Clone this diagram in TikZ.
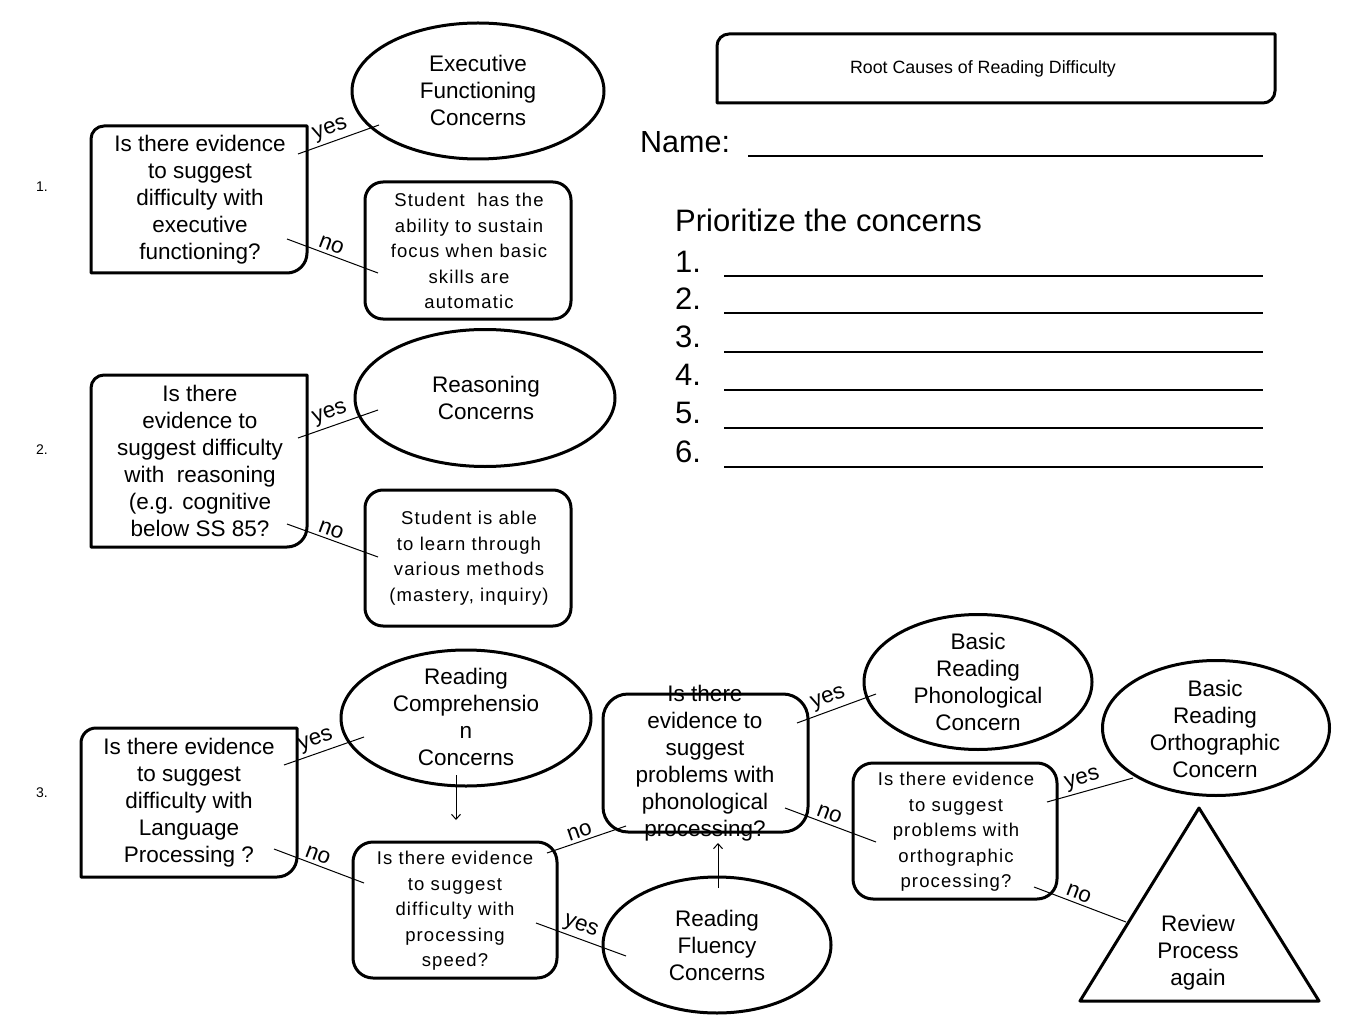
\documentclass[tikz,border=0pt]{standalone}
\usepackage{fontspec}
\setmainfont{Liberation Sans}
\newfontfamily\spcfont[LetterSpace=6]{Liberation Sans}
\usetikzlibrary{shapes.geometric,arrows.meta}
\newcommand\qframe[3]{\draw[frame] (#1.west) [rounded corners=#2] -- (#1.north west) -- (#1.north) [sharp corners] -- (#1.north east) -- (#1.east) [rounded corners=#3] -- (#1.south east) -- (#1.south) [sharp corners] -- (#1.south west) -- cycle;}
\begin{document}
\begin{tikzpicture}[x=1pt,y=-1pt,
 frame/.style={line width=3pt, line join=round},
 shp/.style={rectangle, inner sep=0pt, outer sep=0pt},
 rbox/.style={draw, line width=3pt, rectangle, rounded corners=#1, inner sep=0pt},
 rbox/.default=18pt,
 ell/.style={draw, ellipse, line width=3pt, inner sep=0pt},
 big/.style={font=\fontsize{22.5}{27}\selectfont, align=center, inner sep=0pt},
 sml/.style={font=\spcfont\fontsize{18.5}{25.5}\selectfont, align=center, inner sep=0pt},
 conn/.style={line width=1pt},
 lab/.style={font=\fontsize{22.5}{26}\selectfont, sloped, above, inner sep=3pt, pos=0.45},
 arr/.style={line width=1pt, -{Straight Barb[length=5pt,width=9pt]}},
 uline/.style={line width=2.3pt},
 numl/.style={font=\fontsize{14}{16}\selectfont, inner sep=0pt},
 bigl/.style={anchor=west, font=\fontsize{31}{36}\selectfont, inner sep=0pt},
 ]
\fill[white] (0,0) rectangle (1365,1024);
\useasboundingbox (0,0) rectangle (1365,1024);

% ---------- title and list ----------
\node[shp, minimum width=558pt, minimum height=69pt] (title) at (996,68.5) {};
\qframe{title}{12pt}{12pt}
\node[font=\fontsize{17.8}{20}\selectfont, inner sep=0pt] (titlet) at (983,69) {Root Causes of Reading Difficulty};

\node[bigl, font=\fontsize{30.5}{36}\selectfont] (name) at (640,142) {Name:};
\coordinate (nla) at (748,156);
\coordinate (nlb) at (1263,156);
\draw[uline] (nla) -- (nlb);
\node[bigl] (prio) at (675,220) {Prioritize the concerns};
\foreach \i/\y/\u in {1/262/276, 2/299/313, 3/337/352, 4/375/390, 5/413/428, 6/452/467}{
  \node[bigl] (num\i) at (675,\y) {\i.};
  \coordinate (ula\i) at (724,\u);
  \coordinate (ulb\i) at (1263,\u);
  \draw[uline] (ula\i) -- (ulb\i);
}

% ---------- section 1 ----------
\node[numl] (sec1) at (42,187) {1.};
\node[shp, minimum width=216pt, minimum height=147pt] (q1) at (199,199.5) {};
\qframe{q1}{13pt}{20pt}
\node[big] (q1t) at (200,199.5) {Is there evidence\\to suggest\\difficulty with\\executive\\functioning?};
\node[ell, minimum width=252pt, minimum height=136pt] (ef) at (478,91) {};
\node[big] (eft) at (478,90) {Executive\\Functioning\\Concerns};
\node[rbox, minimum width=206pt, minimum height=137pt] (s1) at (468,250.5) {};
\node[sml] (s1t) at (469,251) {Student\ \ has the\\ability to sustain\\focus when basic\\skills are\\automatic};
\coordinate (y1a) at (298,154); \coordinate (y1b) at (379,125);
\coordinate (n1a) at (287,239); \coordinate (n1b) at (378,273);
\draw[conn] (y1a) -- node[lab] (l1y) {yes} (y1b);
\draw[conn] (n1a) -- node[lab] (l1n) {no} (n1b);

% ---------- section 2 ----------
\node[numl] (sec2) at (42,450) {2.};
\node[shp, minimum width=216pt, minimum height=172pt] (q2) at (199,461) {};
\qframe{q2}{13pt}{20pt}
\node[big] (q2t) at (200,461) {Is there\\evidence to\\suggest difficulty\\with\ \ reasoning\\(e.g. cognitive\\below SS 85?};
\node[ell, minimum width=260pt, minimum height=137pt] (rs) at (485,398) {};
\node[big] (rst) at (486,398) {Reasoning\\Concerns};
\node[rbox, minimum width=206pt, minimum height=136pt] (s2) at (468,558) {};
\node[sml] (s2t) at (469,558) {Student is able\\to learn through\\various methods\\(mastery, inquiry)};
\coordinate (y2a) at (298,438); \coordinate (y2b) at (378,410);
\coordinate (n2a) at (287,524); \coordinate (n2b) at (378,557);
\draw[conn] (y2a) -- node[lab] (l2y) {yes} (y2b);
\draw[conn] (n2a) -- node[lab] (l2n) {no} (n2b);

% ---------- section 3 ----------
\node[numl] (sec3) at (42,793) {3.};
\node[shp, minimum width=216pt, minimum height=149pt] (q3) at (189,802.5) {};
\qframe{q3}{15pt}{20pt}
\node[big] (q3t) at (189,802.5) {Is there evidence\\to suggest\\difficulty with\\Language\\Processing ?};
\node[ell, minimum width=250pt, minimum height=136pt] (rc) at (466,718) {};
\node[big] (rct) at (466,717) {Reading\\Comprehensio\\n\\Concerns};
\node[rbox=20pt, minimum width=204pt, minimum height=136pt] (sp) at (455,910) {};
\node[sml] (spt) at (455,911) {Is there evidence\\to suggest\\difficulty with\\processing\\speed?};
\node[rbox=25pt, minimum width=205pt, minimum height=138pt] (ph) at (705.5,763) {};
\node[big] (pht) at (705,763) {Is there\\evidence to\\suggest\\problems with\\phonological\\processing?};
\node[ell, minimum width=228pt, minimum height=135pt] (phe) at (978,682) {};
\node[big] (phet) at (978,682) {Basic\\Reading\\Phonological\\Concern};
\node[ell, minimum width=228pt, minimum height=136pt] (fl) at (717,945) {};
\node[big] (flt) at (717,945) {Reading\\Fluency\\Concerns};
\node[rbox=20pt, minimum width=204pt, minimum height=136pt] (orb) at (955,831) {};
\node[sml] (orbt) at (956,832) {Is there evidence\\to suggest\\problems with\\orthographic\\processing?};
\node[ell, minimum width=227pt, minimum height=135pt] (ore) at (1216,728) {};
\node[big] (oret) at (1215,729) {Basic\\Reading\\Orthographic\\Concern};
\coordinate (ta) at (1199,808); \coordinate (tb) at (1080,1001); \coordinate (tc) at (1319,1001);
\draw[frame] (ta) -- (tb) -- (tc) -- cycle;
\node[big] (trt) at (1198,953) {Review\\Process\\again};

\coordinate (y3a) at (284,765); \coordinate (y3b) at (364,737);
\coordinate (n3a) at (274,849); \coordinate (n3b) at (364,883);
\draw[conn] (y3a) -- node[lab] (l3y) {yes} (y3b);
\draw[conn] (n3a) -- node[lab] (l3n) {no} (n3b);
\coordinate (ra) at (456,775); \coordinate (rb) at (456,820);
\draw[arr] (ra) -- (rb);
\coordinate (n4a) at (547,853); \coordinate (n4b) at (626,826);
\draw[conn] (n4a) -- node[lab] (l4n) {no} (n4b);
\coordinate (y4a) at (536,923); \coordinate (y4b) at (626,956);
\draw[conn] (y4a) -- node[lab] (l4y) {yes} (y4b);
\coordinate (fa) at (718,888); \coordinate (fb) at (718,843);
\draw[arr] (fa) -- (fb);
\coordinate (y5a) at (797,723); \coordinate (y5b) at (876,694);
\draw[conn] (y5a) -- node[lab] (l5y) {yes} (y5b);
\coordinate (n5a) at (785,808); \coordinate (n5b) at (876,842);
\draw[conn] (n5a) -- node[lab] (l5n) {no} (n5b);
\coordinate (y6a) at (1047,802); \coordinate (y6b) at (1133,778);
\draw[conn] (y6a) -- node[lab] (l6y) {yes} (y6b);
\coordinate (n6a) at (1034,887); \coordinate (n6b) at (1126,922);
\draw[conn] (n6a) -- node[lab] (l6n) {no} (n6b);
\end{tikzpicture}
\end{document}
